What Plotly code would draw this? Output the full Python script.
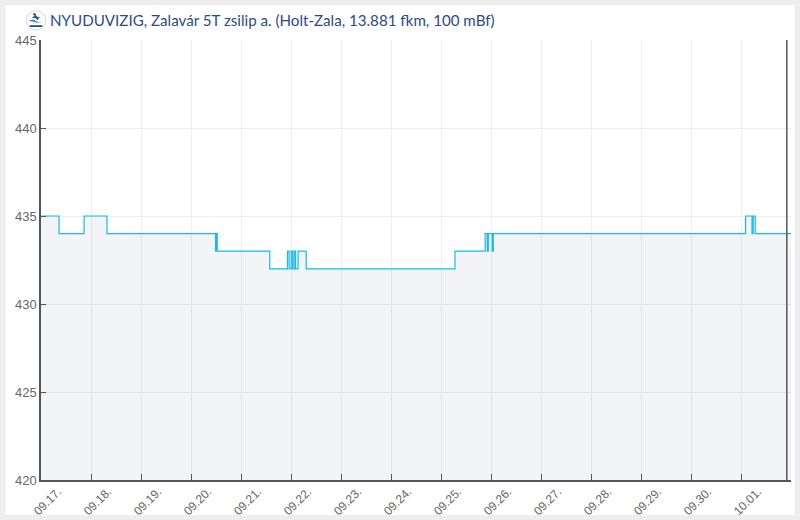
import base64
import plotly.graph_objects as go

title_text = "NYUDUVIZIG, Zalavár 5T zsilip a. (Holt-Zala, 13.881 fkm, 100 mBf)"
times = [
    "2023-09-17 00:00", "2023-09-17 08:40", "2023-09-17 20:40", "2023-09-18 07:40",
    "2023-09-20 11:48", "2023-09-20 12:06", "2023-09-20 12:36",
    "2023-09-21 13:48", "2023-09-21 22:18", "2023-09-21 23:06", "2023-09-22 00:06",
    "2023-09-22 00:48", "2023-09-22 01:30", "2023-09-22 02:12", "2023-09-22 03:24",
    "2023-09-22 07:18",
    "2023-09-25 06:42", "2023-09-25 21:12", "2023-09-25 22:12", "2023-09-25 22:42",
    "2023-09-26 00:36", "2023-09-26 01:06",
    "2023-10-01 02:12", "2023-10-01 05:18", "2023-10-01 05:48", "2023-10-01 06:48",
    "2023-10-02 00:00",
]
levels = [
    435, 434, 435, 434,
    433, 434, 433,
    432, 433, 432, 433,
    432, 433, 432, 433,
    432,
    433, 434, 433, 434,
    433, 434,
    435, 434, 435, 434,
    434,
]
tick_dates = ["2023-09-%02d" % d for d in range(17, 31)] + ["2023-10-01"]
tick_labels = ["09.%02d." % d for d in range(17, 31)] + ["10.01."]
y_ticks = [420, 425, 430, 435, 440, 445]
marker_x = ["2023-10-01 22:00", "2023-10-01 22:00"]
marker_y = [420, 445]

logo_svg = """<svg xmlns="http://www.w3.org/2000/svg" viewBox="0 0 40 40">
<circle cx="20" cy="20" r="18.5" fill="#fff" stroke="#c4cede" stroke-width="1.5"/>
<path d="M6 21 Q14 15 20 21 T34 20 Q27 27 20 24 T6 21Z" fill="#2e8fd8"/>
<path d="M12 15 L19 9 L24 14 L28 13 L23 19 L18 15Z" fill="#2a5aa8"/>
<circle cx="17" cy="8" r="2.4" fill="#2a5aa8"/>
<rect x="8" y="29" width="24" height="3.4" fill="#3b4a66"/>
</svg>"""
logo_uri = "data:image/svg+xml;base64," + base64.b64encode(logo_svg.encode()).decode()

W, H = 800, 520
L, R, T, B = 40.5, 9, 40, 40
PW, PH = W - L - R, H - T - B

fig = go.Figure()
fig.add_trace(go.Scatter(
    x=times, y=levels, mode="lines", line=dict(color="#18b9ee", width=1.2, shape="hv"),
    fill="tozeroy", fillcolor="rgba(15,35,115,0.05)", showlegend=False, hoverinfo="x+y",
))
fig.add_trace(go.Scatter(
    x=marker_x, y=marker_y, mode="lines", line=dict(color="#555555", width=1.5),
    showlegend=False, hoverinfo="skip",
))
fig.update_layout(
    width=W, height=H, margin=dict(l=L, r=R, t=T, b=B, pad=0),
    paper_bgcolor="#eeeeee", plot_bgcolor="rgba(0,0,0,0)",
    font=dict(family="Liberation Sans, Arial, sans-serif", size=12, color="#666666"),
    showlegend=False,
    xaxis=dict(
        type="date", range=["2023-09-17", "2023-10-02"], tickmode="array",
        tickvals=tick_dates, ticktext=tick_labels, tickangle=-45, automargin=False,
        showgrid=True, gridcolor="#eeeeee", gridwidth=1, ticks="inside", ticklen=6,
        tickcolor="#555555", showline=True, linecolor="#555555", linewidth=1.5,
        tickfont=dict(size=12, color="#666666"), zeroline=False,
        ticklabelshift=17, ticklabelstandoff=-2,
    ),
    yaxis=dict(
        range=[420, 445], tickmode="array", tickvals=y_ticks, automargin=False,
        showgrid=True, gridcolor="#eeeeee", gridwidth=1, ticks="inside", ticklen=5,
        tickcolor="#555555", showline=True,
        linecolor="#555555", linewidth=1.5, tickfont=dict(size=13, color="#666666"),
        zeroline=False,
    ),
    title=dict(
        text=title_text, x=50 / W, xanchor="left", y=1 - 21 / H, yanchor="middle",
        font=dict(family="Lato, sans-serif", size=15.15, color="#2b4a8b"),
    ),
    shapes=[
        dict(type="rect", xref="paper", yref="paper", layer="below",
             x0=(5 - L) / PW, x1=(795 - L) / PW, y0=(H - B - 515) / PH, y1=(H - B - 5) / PH,
             fillcolor="#ffffff", line_width=0),
    ],
    images=[dict(source=logo_uri, xref="paper", yref="paper", x=(25 - L) / PW,
                 y=(H - B - 10) / PH, sizex=21 / PW, sizey=21 / PH,
                 xanchor="left", yanchor="top", layer="above")],
)
fig.write_html("out.html", config={"displayModeBar": False},
               post_script="document.body.style.margin='0';document.body.style.overflow='hidden';")
